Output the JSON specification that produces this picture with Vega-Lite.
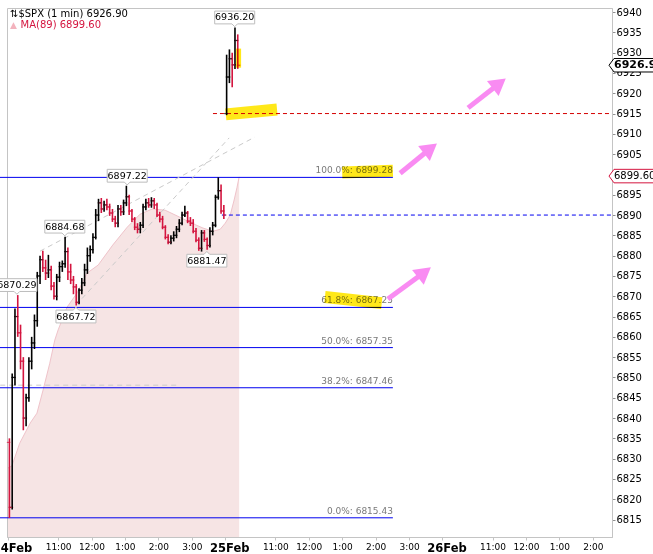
{
  "$schema": "https://vega.github.io/schema/vega-lite/v6.json",
  "width": 605,
  "height": 529,
  "autosize": "none",
  "padding": {"left": 7, "top": 8, "right": 41, "bottom": 17},
  "background": "white",
  "config": {
    "view": {"stroke": "#c4c4c4"},
    "font": "DejaVu Sans",
    "axis": {"labelOverlap": false, "labelFlush": false, "labelBound": false, "tickCount": 100}
  },
  "datasets": {
    "bars": [
      {"m": 0, "o": 6834, "h": 6835, "l": 6815.4, "c": 6818},
      {"m": 5, "o": 6818, "h": 6851, "l": 6817.5, "c": 6850},
      {"m": 10, "o": 6850, "h": 6867, "l": 6848, "c": 6865},
      {"m": 15, "o": 6865, "h": 6870.29, "l": 6860, "c": 6861},
      {"m": 20, "o": 6861, "h": 6863, "l": 6852, "c": 6854},
      {"m": 25, "o": 6854, "h": 6855, "l": 6837, "c": 6840},
      {"m": 30, "o": 6840, "h": 6846, "l": 6838, "c": 6845},
      {"m": 35, "o": 6845, "h": 6855, "l": 6844, "c": 6854},
      {"m": 40, "o": 6854, "h": 6860, "l": 6852, "c": 6858.5},
      {"m": 45, "o": 6858.5, "h": 6865.5, "l": 6857, "c": 6864},
      {"m": 50, "o": 6864, "h": 6876, "l": 6862.5, "c": 6875},
      {"m": 55, "o": 6875, "h": 6880, "l": 6873, "c": 6879},
      {"m": 60, "o": 6879, "h": 6881.2, "l": 6876, "c": 6877},
      {"m": 65, "o": 6877, "h": 6879, "l": 6874, "c": 6875.7},
      {"m": 70, "o": 6875.7, "h": 6880.2, "l": 6874.5, "c": 6876.5},
      {"m": 75, "o": 6876.5, "h": 6877.5, "l": 6871.5, "c": 6872.5},
      {"m": 80, "o": 6872.5, "h": 6873.5, "l": 6869.2, "c": 6870},
      {"m": 85, "o": 6870, "h": 6875.5, "l": 6869, "c": 6874.7},
      {"m": 90, "o": 6874.7, "h": 6878.5, "l": 6873.5, "c": 6877.3},
      {"m": 95, "o": 6877.3, "h": 6878.8, "l": 6876, "c": 6878},
      {"m": 100, "o": 6878, "h": 6884.68, "l": 6877, "c": 6881},
      {"m": 105, "o": 6881, "h": 6882, "l": 6874, "c": 6876},
      {"m": 110, "o": 6876, "h": 6878, "l": 6873, "c": 6874},
      {"m": 115, "o": 6874, "h": 6875, "l": 6870.5, "c": 6872.3},
      {"m": 120, "o": 6872.3, "h": 6873, "l": 6867.72, "c": 6868.5},
      {"m": 125, "o": 6868.5, "h": 6872, "l": 6868, "c": 6871.5},
      {"m": 130, "o": 6871.5, "h": 6874.5, "l": 6870.5, "c": 6873.3},
      {"m": 135, "o": 6873.3, "h": 6878, "l": 6872.5, "c": 6876.5},
      {"m": 140, "o": 6876.5, "h": 6882, "l": 6875.5, "c": 6880},
      {"m": 145, "o": 6880, "h": 6882.5, "l": 6878.5, "c": 6881.5},
      {"m": 150, "o": 6881.5, "h": 6885.5, "l": 6880.5, "c": 6884.5},
      {"m": 155, "o": 6884.5, "h": 6891.5, "l": 6884, "c": 6890},
      {"m": 160, "o": 6890, "h": 6894, "l": 6888.5, "c": 6893},
      {"m": 165, "o": 6893, "h": 6894.2, "l": 6890.5, "c": 6891.5},
      {"m": 170, "o": 6891.5, "h": 6893.5, "l": 6890.8, "c": 6892.5},
      {"m": 175, "o": 6892.5, "h": 6894, "l": 6891.2, "c": 6892},
      {"m": 180, "o": 6892, "h": 6892.8, "l": 6889.8, "c": 6890.5},
      {"m": 185, "o": 6890.5, "h": 6891.5, "l": 6888.3, "c": 6889},
      {"m": 190, "o": 6889, "h": 6889.8, "l": 6887, "c": 6888},
      {"m": 195, "o": 6888, "h": 6892.5, "l": 6887, "c": 6891.5},
      {"m": 200, "o": 6891.5, "h": 6892.5, "l": 6889.8, "c": 6890.8},
      {"m": 205, "o": 6890.8, "h": 6893.8, "l": 6890, "c": 6893},
      {"m": 210, "o": 6893, "h": 6897.22, "l": 6892.2, "c": 6894.5},
      {"m": 215, "o": 6894.5, "h": 6895, "l": 6890, "c": 6891},
      {"m": 220, "o": 6891, "h": 6891.5, "l": 6888.3, "c": 6889},
      {"m": 225, "o": 6889, "h": 6889.5, "l": 6886.3, "c": 6887},
      {"m": 230, "o": 6887, "h": 6888, "l": 6885.5, "c": 6886.5},
      {"m": 235, "o": 6886.5, "h": 6888.3, "l": 6885.5, "c": 6887.5},
      {"m": 240, "o": 6887.5, "h": 6892.8, "l": 6886.8, "c": 6892},
      {"m": 245, "o": 6892, "h": 6894, "l": 6891.2, "c": 6893},
      {"m": 250, "o": 6893, "h": 6894.2, "l": 6891.8, "c": 6892.5},
      {"m": 255, "o": 6892.5, "h": 6894.4, "l": 6891.8, "c": 6893.5},
      {"m": 260, "o": 6893.5, "h": 6894.2, "l": 6891.5, "c": 6892.5},
      {"m": 265, "o": 6892.5, "h": 6893, "l": 6889.5, "c": 6890},
      {"m": 270, "o": 6890, "h": 6890.8, "l": 6888.2, "c": 6889},
      {"m": 275, "o": 6889, "h": 6889.8, "l": 6886.5, "c": 6887},
      {"m": 280, "o": 6887, "h": 6887.5, "l": 6884, "c": 6884.5},
      {"m": 285, "o": 6884.5, "h": 6885.3, "l": 6882.8, "c": 6883.3},
      {"m": 290, "o": 6883.3, "h": 6885, "l": 6882.8, "c": 6884.3},
      {"m": 295, "o": 6884.3, "h": 6886, "l": 6883.5, "c": 6885},
      {"m": 300, "o": 6885, "h": 6887.3, "l": 6884.3, "c": 6886.5},
      {"m": 305, "o": 6886.5, "h": 6889, "l": 6885.8, "c": 6888},
      {"m": 310, "o": 6888, "h": 6890.8, "l": 6887.5, "c": 6890},
      {"m": 315, "o": 6890, "h": 6892.3, "l": 6889.5, "c": 6890.5},
      {"m": 320, "o": 6890.5, "h": 6891, "l": 6888, "c": 6888.5},
      {"m": 325, "o": 6888.5, "h": 6889.5, "l": 6887.3, "c": 6888},
      {"m": 330, "o": 6888, "h": 6889, "l": 6885.5, "c": 6886},
      {"m": 335, "o": 6886, "h": 6886.8, "l": 6883.3, "c": 6883.8},
      {"m": 340, "o": 6883.8, "h": 6884.5, "l": 6881.2, "c": 6881.8},
      {"m": 345, "o": 6881.8, "h": 6886.3, "l": 6881, "c": 6885.6},
      {"m": 350, "o": 6885.6, "h": 6886.3, "l": 6883.4, "c": 6884},
      {"m": 355, "o": 6884, "h": 6884.5, "l": 6881.47, "c": 6882.5},
      {"m": 360, "o": 6882.5, "h": 6887, "l": 6882, "c": 6886},
      {"m": 365, "o": 6886, "h": 6888.3, "l": 6885, "c": 6887.5},
      {"m": 370, "o": 6887.5, "h": 6895, "l": 6887, "c": 6894.4},
      {"m": 375, "o": 6894.4, "h": 6899.28, "l": 6893.8, "c": 6896},
      {"m": 380, "o": 6896, "h": 6897.5, "l": 6890.3, "c": 6891},
      {"m": 385, "o": 6891, "h": 6892.5, "l": 6889, "c": 6890},
      {"m": 390, "o": 6915, "h": 6929.5, "l": 6914.6, "c": 6924},
      {"m": 395, "o": 6924, "h": 6930.8, "l": 6922.5, "c": 6928.5},
      {"m": 400, "o": 6928.5, "h": 6930, "l": 6921.5, "c": 6927},
      {"m": 405, "o": 6927, "h": 6936.2, "l": 6926, "c": 6933},
      {"m": 410, "o": 6933, "h": 6934.5, "l": 6926, "c": 6926.9}
    ],
    "ma": [
      {"t": 0, "p": 6827.7}, {"t": 7, "p": 6828.2}, {"t": 21, "p": 6833.8},
      {"t": 40, "p": 6838.8}, {"t": 52, "p": 6841.2}, {"t": 63, "p": 6846.9},
      {"t": 75, "p": 6853.5}, {"t": 84, "p": 6859.2}, {"t": 90, "p": 6861.7},
      {"t": 106, "p": 6867.3}, {"t": 124, "p": 6870.8}, {"t": 142, "p": 6875.7},
      {"t": 162, "p": 6877.7}, {"t": 188, "p": 6882.6}, {"t": 214, "p": 6887.0},
      {"t": 237, "p": 6890.2}, {"t": 259, "p": 6891.5}, {"t": 282, "p": 6891.2},
      {"t": 305, "p": 6889.7}, {"t": 330, "p": 6888.0}, {"t": 350, "p": 6886.8},
      {"t": 368, "p": 6886.0}, {"t": 381, "p": 6886.5}, {"t": 390, "p": 6888.0},
      {"t": 399, "p": 6890.0}, {"t": 406, "p": 6893.7}, {"t": 411, "p": 6896.7},
      {"t": 415, "p": 6899.4}
    ],
    "fib": [
      {"p": 6899.28, "lab": "100.0%: 6899.28"},
      {"p": 6867.25, "lab": "61.8%: 6867.25"},
      {"p": 6857.35, "lab": "50.0%: 6857.35"},
      {"p": 6847.46, "lab": "38.2%: 6847.46"},
      {"p": 6815.43, "lab": "0.0%: 6815.43"}
    ],
    "segs": [
      {"kind": "open", "t1": 368, "p1": 6915, "t2": 1084.4, "p2": 6915},
      {"kind": "close", "t1": 384, "p1": 6890, "t2": 1084.4, "p2": 6890},
      {"kind": "trend", "t1": 57.5, "p1": 6881.1, "t2": 443, "p2": 6909.2},
      {"kind": "trend", "t1": 122, "p1": 6867.8, "t2": 397, "p2": 6909},
      {"kind": "trend", "t1": -14, "p1": 6848.1, "t2": 303, "p2": 6848.1},
      {"kind": "hl", "t1": 391, "p1": 6914.8, "t2": 483, "p2": 6916.0},
      {"kind": "hl", "t1": 600, "p1": 6900.5, "t2": 691, "p2": 6900.9},
      {"kind": "hl", "t1": 569, "p1": 6869.8, "t2": 671, "p2": 6868.3},
      {"kind": "hl2", "t1": 414, "p1": 6931, "t2": 414, "p2": 6926.3},
      {"kind": "arrow", "t1": 826, "p1": 6916.4, "t2": 882, "p2": 6922.4},
      {"kind": "arrow", "t1": 704, "p1": 6900.3, "t2": 758.5, "p2": 6906.4},
      {"kind": "arrow", "t1": 682, "p1": 6869.3, "t2": 747.6, "p2": 6875.9}
    ],
    "heads": [
      {"t": 882, "p": 6922.4},
      {"t": 758.5, "p": 6906.4},
      {"t": 747.6, "p": 6875.9}
    ],
    "callouts": [
      {"t": 407, "p": 6936.2, "lab": "6936.20", "pos": "hi"},
      {"t": 214, "p": 6897.22, "lab": "6897.22", "pos": "hi"},
      {"t": 102, "p": 6884.68, "lab": "6884.68", "pos": "hi"},
      {"t": 16, "p": 6870.29, "lab": "6870.29", "pos": "hi"},
      {"t": 122, "p": 6867.72, "lab": "6867.72", "pos": "lo"},
      {"t": 357, "p": 6881.47, "lab": "6881.47", "pos": "lo"}
    ]
  },
  "layer": [
    {
      "data": {"name": "ma"},
      "mark": {"type": "area", "color": "#f6e4e4"},
      "encoding": {
        "x": {"field": "t", "type": "quantitative",
          "scale": {"domain": [-1.8, 1084.4], "nice": false, "zero": false},
          "axis": {
            "title": null, "grid": false, "tickCount": 100,
            "values": [0, 90, 150, 210, 270, 330, 390, 480, 540, 600, 660, 720, 780, 870, 930, 990, 1050],
            "labelExpr": "datum.value % 390 == 0 ? ['24Feb','25Feb','26Feb'][datum.value / 390] : ['11:00','12:00','1:00','2:00','3:00'][(datum.value % 390 - 90) / 60]",
            "labelFontWeight": {"condition": {"test": "datum.value % 390 == 0", "value": "bold"}, "value": "normal"},
            "labelFontSize": {"condition": {"test": "datum.value % 390 == 0", "value": 11.5}, "value": 9},
            "labelOffset": {"condition": {"test": "datum.value % 390 == 0", "value": 4}, "value": 0},
            "labelColor": "black", "labelPadding": 2, "labelFlush": false, "labelOverlap": false, "labelBound": false,
            "domainColor": "#c4c4c4", "tickColor": "#c4c4c4", "tickSize": 3
          }},
        "y": {"field": "p", "type": "quantitative",
          "scale": {"domain": [6810.7, 6941], "nice": false, "zero": false},
          "axis": {
            "orient": "right", "title": null, "grid": false, "format": "d", "labelOverlap": false, "tickCount": 100,
            "values": [6815, 6820, 6825, 6830, 6835, 6840, 6845, 6850, 6855, 6860, 6865, 6870, 6875, 6880, 6885, 6890, 6895, 6900, 6905, 6910, 6915, 6920, 6925, 6930, 6935, 6940],
            "labelColor": "black", "labelFontSize": 10, "labelPadding": 1,
            "domainColor": "#c4c4c4", "tickColor": "#909090", "tickSize": 3
          }},
        "y2": {"datum": 6810.7}
      }
    },
    {
      "data": {"name": "ma"},
      "mark": {"type": "line", "color": "#efc3ca", "strokeWidth": 1},
      "encoding": {
        "x": {"field": "t", "type": "quantitative"},
        "y": {"field": "p", "type": "quantitative"}
      }
    },
    {
      "data": {"name": "fib"},
      "mark": {"type": "rule", "color": "#0000f0", "strokeWidth": 1},
      "encoding": {
        "x": {"datum": -15, "type": "quantitative"},
        "x2": {"datum": 691},
        "y": {"field": "p", "type": "quantitative"}
      }
    },
    {
      "data": {"name": "fib"},
      "mark": {"type": "text", "align": "right", "baseline": "bottom", "dy": -2, "fontSize": 9, "color": "#7a7a7a"},
      "encoding": {
        "x": {"datum": 691, "type": "quantitative"},
        "y": {"field": "p", "type": "quantitative"},
        "text": {"field": "lab"}
      }
    },
    {
      "data": {"name": "segs"},
      "transform": [{"filter": "datum.kind == 'trend'"}],
      "mark": {"type": "rule", "color": "#cacaca", "strokeWidth": 1, "strokeDash": [5, 4]},
      "encoding": {
        "x": {"field": "t1", "type": "quantitative"},
        "x2": {"field": "t2"},
        "y": {"field": "p1", "type": "quantitative"},
        "y2": {"field": "p2"}
      }
    },
    {
      "data": {"name": "segs"},
      "transform": [{"filter": "datum.kind == 'open'"}],
      "mark": {"type": "rule", "color": "#d40000", "strokeWidth": 1, "strokeDash": [4, 3]},
      "encoding": {
        "x": {"field": "t1", "type": "quantitative"},
        "x2": {"field": "t2"},
        "y": {"field": "p1", "type": "quantitative"},
        "y2": {"field": "p2"}
      }
    },
    {
      "data": {"name": "segs"},
      "transform": [{"filter": "datum.kind == 'close'"}],
      "mark": {"type": "rule", "color": "#0000f0", "strokeWidth": 1, "strokeDash": [4, 3]},
      "encoding": {
        "x": {"field": "t1", "type": "quantitative"},
        "x2": {"field": "t2"},
        "y": {"field": "p1", "type": "quantitative"},
        "y2": {"field": "p2"}
      }
    },
    {
      "data": {"name": "bars"},
      "mark": {"type": "rule", "strokeWidth": 1.6, "xOffset": 1.4},
      "encoding": {
        "x": {"field": "m", "type": "quantitative"},
        "y": {"field": "l", "type": "quantitative"},
        "y2": {"field": "h"},
        "color": {"condition": {"test": "datum.c >= datum.o", "value": "black"}, "value": "#d4153f"}
      }
    },
    {
      "data": {"name": "bars"},
      "mark": {"type": "tick", "orient": "horizontal", "size": 3.5, "thickness": 1.2, "xOffset": 0.6},
      "encoding": {
        "x": {"field": "m", "type": "quantitative"},
        "y": {"field": "o", "type": "quantitative"},
        "color": {"condition": {"test": "datum.c >= datum.o", "value": "black"}, "value": "#d4153f"}
      }
    },
    {
      "data": {"name": "bars"},
      "mark": {"type": "tick", "orient": "horizontal", "size": 3.5, "thickness": 1.2, "xOffset": 2.2},
      "encoding": {
        "x": {"field": "m", "type": "quantitative"},
        "y": {"field": "c", "type": "quantitative"},
        "color": {"condition": {"test": "datum.c >= datum.o", "value": "black"}, "value": "#d4153f"}
      }
    },
    {
      "data": {"name": "segs"},
      "transform": [{"filter": "datum.kind == 'hl'"}],
      "mark": {"type": "rule", "color": "#ffe600", "strokeWidth": 12, "strokeCap": "butt", "opacity": 0.9, "blend": "multiply"},
      "encoding": {
        "x": {"field": "t1", "type": "quantitative"},
        "x2": {"field": "t2"},
        "y": {"field": "p1", "type": "quantitative"},
        "y2": {"field": "p2"}
      }
    },
    {
      "data": {"name": "segs"},
      "transform": [{"filter": "datum.kind == 'hl2'"}],
      "mark": {"type": "rule", "color": "#ffe600", "strokeWidth": 5, "strokeCap": "butt", "opacity": 0.9, "blend": "multiply"},
      "encoding": {
        "x": {"field": "t1", "type": "quantitative"},
        "x2": {"field": "t2"},
        "y": {"field": "p1", "type": "quantitative"},
        "y2": {"field": "p2"}
      }
    },
    {
      "data": {"name": "segs"},
      "transform": [{"filter": "datum.kind == 'arrow'"}],
      "mark": {"type": "rule", "color": "#f98bf2", "strokeWidth": 5, "strokeCap": "butt"},
      "encoding": {
        "x": {"field": "t1", "type": "quantitative"},
        "x2": {"field": "t2"},
        "y": {"field": "p1", "type": "quantitative"},
        "y2": {"field": "p2"}
      }
    },
    {
      "data": {"name": "heads"},
      "mark": {"type": "point", "shape": "triangle-up", "filled": true, "color": "#f98bf2", "opacity": 1, "size": 360, "angle": 52},
      "encoding": {
        "x": {"field": "t", "type": "quantitative"},
        "y": {"field": "p", "type": "quantitative"}
      }
    },
    {
      "data": {"name": "callouts"},
      "transform": [{"filter": "datum.pos == 'hi'"}],
      "mark": {"type": "point", "shape": "M-1,-0.32L1,-0.32L1,0.32L0.14,0.32L0,0.46L-0.14,0.32L-1,0.32Z", "filled": true, "fill": "white", "stroke": "#bdbdbd", "strokeWidth": 1, "opacity": 1, "size": 1600, "yOffset": -10},
      "encoding": {
        "x": {"field": "t", "type": "quantitative"},
        "y": {"field": "p", "type": "quantitative"}
      }
    },
    {
      "data": {"name": "callouts"},
      "transform": [{"filter": "datum.pos == 'hi'"}],
      "mark": {"type": "text", "fontSize": 9.5, "color": "black", "baseline": "middle", "yOffset": -10},
      "encoding": {
        "x": {"field": "t", "type": "quantitative"},
        "y": {"field": "p", "type": "quantitative"},
        "text": {"field": "lab"}
      }
    },
    {
      "data": {"name": "callouts"},
      "transform": [{"filter": "datum.pos == 'lo'"}],
      "mark": {"type": "point", "shape": "M-1,0.32L1,0.32L1,-0.32L0.14,-0.32L0,-0.46L-0.14,-0.32L-1,-0.32Z", "filled": true, "fill": "white", "stroke": "#bdbdbd", "strokeWidth": 1, "opacity": 1, "size": 1600, "yOffset": 11},
      "encoding": {
        "x": {"field": "t", "type": "quantitative"},
        "y": {"field": "p", "type": "quantitative"}
      }
    },
    {
      "data": {"name": "callouts"},
      "transform": [{"filter": "datum.pos == 'lo'"}],
      "mark": {"type": "text", "fontSize": 9.5, "color": "black", "baseline": "middle", "yOffset": 11},
      "encoding": {
        "x": {"field": "t", "type": "quantitative"},
        "y": {"field": "p", "type": "quantitative"},
        "text": {"field": "lab"}
      }
    },
    {
      "data": {"values": [{"p": 6926.9, "lab": "6926.90"}]},
      "layer": [
        {
          "mark": {"type": "point", "shape": "M-1,0L-0.8,-0.27L1,-0.27L1,0.27L-0.8,0.27Z", "filled": true, "fill": "white", "stroke": "black", "strokeWidth": 1, "opacity": 1, "size": 2500},
          "encoding": {
            "x": {"datum": 1123.9, "type": "quantitative"},
            "y": {"field": "p", "type": "quantitative"}
          }
        },
        {
          "mark": {"type": "text", "align": "left", "baseline": "middle", "fontSize": 11, "fontWeight": "bold", "color": "black"},
          "encoding": {
            "x": {"datum": 1088, "type": "quantitative"},
            "y": {"field": "p", "type": "quantitative"},
            "text": {"field": "lab"}
          }
        }
      ]
    },
    {
      "data": {"values": [{"p": 6899.6, "lab": "6899.60"}]},
      "layer": [
        {
          "mark": {"type": "point", "shape": "M-1,0L-0.8,-0.27L1,-0.27L1,0.27L-0.8,0.27Z", "filled": true, "fill": "white", "stroke": "#d4153f", "strokeWidth": 1, "opacity": 1, "size": 2500},
          "encoding": {
            "x": {"datum": 1123.9, "type": "quantitative"},
            "y": {"field": "p", "type": "quantitative"}
          }
        },
        {
          "mark": {"type": "text", "align": "left", "baseline": "middle", "fontSize": 10, "color": "black"},
          "encoding": {
            "x": {"datum": 1088, "type": "quantitative"},
            "y": {"field": "p", "type": "quantitative"},
            "text": {"field": "lab"}
          }
        }
      ]
    },
    {
      "data": {"values": [{}]},
      "layer": [
        {
          "mark": {"type": "text", "align": "left", "baseline": "middle", "fontSize": 10, "color": "black"},
          "encoding": {
            "x": {"datum": 3.6, "type": "quantitative"},
            "y": {"datum": 6939.5, "type": "quantitative"},
            "text": {"value": "⇅$SPX (1 min) 6926.90"}
          }
        },
        {
          "mark": {"type": "text", "align": "left", "baseline": "middle", "fontSize": 9, "color": "#f3b3bd"},
          "encoding": {
            "x": {"datum": 3.6, "type": "quantitative"},
            "y": {"datum": 6936.8, "type": "quantitative"},
            "text": {"value": "▲"}
          }
        },
        {
          "mark": {"type": "text", "align": "left", "baseline": "middle", "fontSize": 10, "color": "#d4153f"},
          "encoding": {
            "x": {"datum": 22.5, "type": "quantitative"},
            "y": {"datum": 6936.8, "type": "quantitative"},
            "text": {"value": "MA(89) 6899.60"}
          }
        }
      ]
    }
  ]
}
